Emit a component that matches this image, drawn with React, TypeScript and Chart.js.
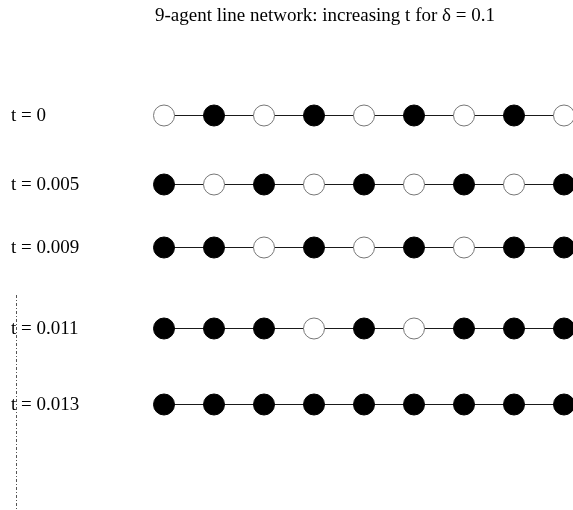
import React, { useEffect, useRef } from "react";
import { Chart, registerables } from "chart.js";

Chart.register(...registerables);

const TITLE = "9-agent line network: increasing t for δ = 0.1";
const agents = [1, 2, 3, 4, 5, 6, 7, 8, 9];
const tLabels = ["t = 0", "t = 0.005", "t = 0.009", "t = 0.011", "t = 0.013"];
// 1 = black (active), 0 = white
const stateT0 = [0, 1, 0, 1, 0, 1, 0, 1, 0];
const stateT005 = [1, 0, 1, 0, 1, 0, 1, 0, 1];
const stateT009 = [1, 1, 0, 1, 0, 1, 0, 1, 1];
const stateT011 = [1, 1, 1, 0, 1, 0, 1, 1, 1];
const stateT013 = [1, 1, 1, 1, 1, 1, 1, 1, 1];
const states = [stateT0, stateT005, stateT009, stateT011, stateT013];
// row level on the hidden vertical axis (0 = top of canvas, 510 = bottom)
const rowLevel = [115.5, 184.5, 247.5, 328.5, 404.5];

const FONT = '19px "Liberation Serif", "Times New Roman", serif';

const decorPlugin = {
  id: "decor",
  afterDatasetsDraw(chart: any) {
    const ctx = chart.ctx;
    const ys = chart.scales.y;
    ctx.save();
    ctx.fillStyle = "#000";
    ctx.font = FONT;
    ctx.textAlign = "center";
    ctx.textBaseline = "alphabetic";
    ctx.fillText(TITLE, 325, 21);
    ctx.textAlign = "left";
    tLabels.forEach((lab, i) => {
      ctx.fillText(lab, 11, ys.getPixelForValue(rowLevel[i]) + 5.5);
    });
    // dash-dot vertical guide
    ctx.strokeStyle = "#555";
    ctx.lineWidth = 1;
    ctx.setLineDash([3, 2, 1, 2]);
    ctx.beginPath();
    ctx.moveTo(16.5, 295);
    ctx.lineTo(16.5, 510);
    ctx.stroke();
    ctx.restore();
  },
};

export default function App() {
  const ref = useRef<HTMLCanvasElement | null>(null);
  useEffect(() => {
    if (!ref.current) return;
    const datasets = states.map((st, r) => ({
      label: tLabels[r],
      data: agents.map((a, i) => ({ x: i, y: rowLevel[r] })),
      showLine: true,
      borderColor: "#1a1a1a",
      borderWidth: 1,
      pointRadius: 10.5,
      pointHoverRadius: 10.5,
      pointBorderWidth: 1,
      pointBackgroundColor: st.map((s) => (s ? "#000" : "#fff")),
      pointBorderColor: st.map((s) => (s ? "#000" : "#777")),
      clip: false as any,
    }));
    const chart = new Chart(ref.current, {
      type: "scatter",
      data: { datasets },
      options: {
        animation: false,
        responsive: false,
        maintainAspectRatio: false,
        layout: { padding: 0, autoPadding: false } as any,
        events: [],
        plugins: {
          legend: { display: false },
          title: { display: false },
          tooltip: { enabled: false },
        },
        scales: {
          x: { type: "linear", display: false, min: -3.28, max: 8.18 },
          y: { type: "linear", display: false, min: 0, max: 510, reverse: true },
        },
      },
      plugins: [decorPlugin],
    });
    return () => chart.destroy();
  }, []);
  return (
    <div style={{ position: "absolute", left: 0, top: 0, width: 573, height: 510, background: "#fff" }}>
      <canvas ref={ref} width={573} height={510} style={{ display: "block", width: 573, height: 510 }} />
    </div>
  );
}
